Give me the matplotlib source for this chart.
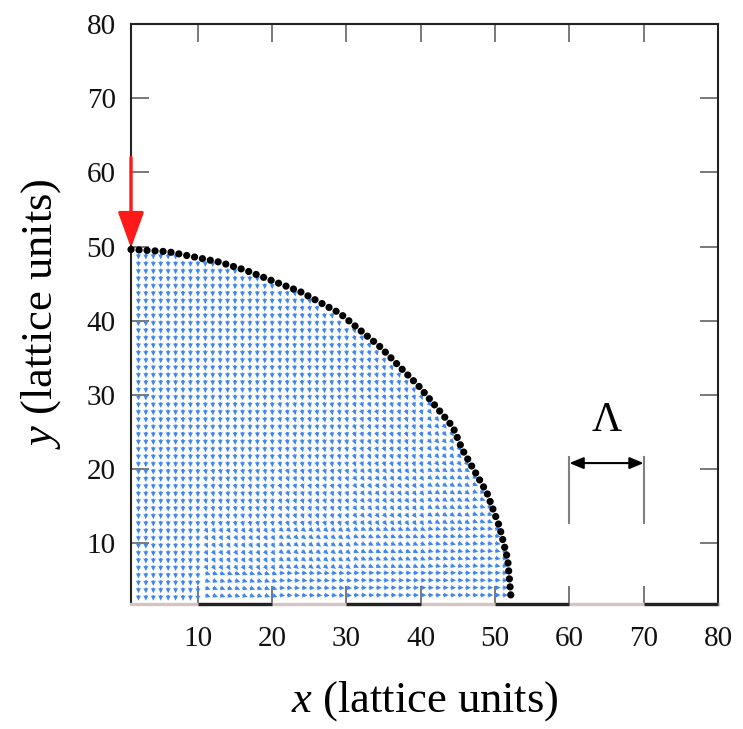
import numpy as np
import matplotlib.pyplot as plt

plt.rcParams['font.family'] = ['Liberation Serif', 'DejaVu Serif']
plt.rcParams['mathtext.fontset'] = 'custom'
plt.rcParams['mathtext.it'] = 'Liberation Serif:italic'
plt.rcParams['mathtext.rm'] = 'Liberation Serif'

# droplet interface (lattice units), top of the drop -> contact line
drop_x = [1.0, 6.0, 12.9, 16.4, 23.8, 29.1, 34.5, 39.8, 44.3, 45.6, 48.9, 50.6, 51.7, 52.2]
drop_y = [49.6, 49.3, 47.9, 46.8, 43.9, 41.0, 36.5, 31.1, 25.7, 22.6, 16.8, 12.2, 7.8, 2.0]

# flow direction (deg) inside the drop, by region
band_y = [3, 7, 13, 21, 31, 41, 50]
band_x = [1, 11, 21, 31, 41, 47, 53]
flow_angle = [
    [-90, -20, -5, 0, 0, 0],
    [-90, -60, -40, -25, -15, -10],
    [-90, -80, -70, -55, -35, -20],
    [-90, -88, -80, -70, -50, -40],
    [-90, -90, -85, -75, -60, -50],
    [-90, -90, -80, -70, -60, -50],
]

# striped substrate: dark patches
stripe_start = [10, 30, 50, 70]
stripe_end = [20, 40, 60, 80]

xticks = [10, 20, 30, 40, 50, 60, 70, 80]
yticks = [10, 20, 30, 40, 50, 60, 70, 80]

fig = plt.figure(figsize=(7.43, 7.29), dpi=100)
ax = fig.add_axes([131 / 743, 125 / 729, 587 / 743, 580 / 729])
ax.set_xlim(1, 80)
ax.set_ylim(1.8, 80)

# velocity field on the lattice nodes inside the drop
gx, gy = np.meshgrid(np.arange(2, 53), np.arange(3, 50))
gx, gy = gx.ravel(), gy.ravel()
edge = np.interp(gy, drop_y[::-1], drop_x[::-1])
inside = gx <= edge - 0.4
gx, gy = gx[inside], gy[inside]
iy = np.clip(np.digitize(gy, band_y) - 1, 0, 5)
ix = np.clip(np.digitize(gx, band_x) - 1, 0, 5)
ang = np.radians(np.array(flow_angle)[iy, ix])
L = 0.75
ax.quiver(gx, gy, L * np.cos(ang), L * np.sin(ang), angles='xy',
          scale_units='xy', scale=1, color='#3f86f0', width=0.0034,
          headwidth=2.6, headlength=2.6, headaxislength=2.3, zorder=2)

# interface nodes
ax.plot(drop_x, drop_y, color='k', lw=5.2, linestyle=(0, (0.01, 1.1)),
        dash_capstyle='round', zorder=4, clip_on=False)

# bottom wall with stripes
ax.spines['bottom'].set_visible(False)
ax.plot([1, 80], [1.8, 1.8], color='#d6c4c4', lw=2.4, clip_on=False, zorder=5)
for s, e in zip(stripe_start, stripe_end):
    ax.plot([s, e], [1.8, 1.8], color='#222222', lw=2.4, clip_on=False,
            zorder=6, solid_capstyle='butt')

for side in ['left', 'top', 'right']:
    ax.spines[side].set_linewidth(1.5)
    ax.spines[side].set_color('#222222')

# red arrow on the symmetry axis
ax.annotate('', xy=(1, 49.8), xytext=(1, 62),
            arrowprops=dict(arrowstyle='-|>,head_length=1.1,head_width=0.4',
                            mutation_scale=20, color='#ff1a1a', lw=2.4,
                            shrinkA=0, shrinkB=0),
            annotation_clip=False, zorder=7)

# stripe width marker
ax.plot([60, 60], [12.75, 21.6], color='#808080', lw=1.5)
ax.plot([70, 70], [12.75, 21.6], color='#808080', lw=1.5)
ax.annotate('', xy=(70, 20.8), xytext=(60, 20.8),
            arrowprops=dict(arrowstyle='<|-|>,head_length=0.6,head_width=0.25',
                            mutation_scale=14, color='k', lw=1.5,
                            shrinkA=0, shrinkB=0))
ax.text(65, 26.5, 'Λ', fontsize=30, ha='center', va='center')

ax.set_xticks(xticks)
ax.set_yticks(yticks)
ax.tick_params(direction='in', length=13, width=1.1, color='#555555',
               top=True, right=True, labelsize=21, labelcolor='#111111')
ax.tick_params(axis='x', pad=16)
ax.tick_params(axis='y', pad=11)

ax.set_xlabel(r'$x$ (lattice units)', fontsize=32, labelpad=19)
ax.set_ylabel(r'$y$ (lattice units)', fontsize=32, labelpad=17)

fig.savefig('out.png', dpi=100)
